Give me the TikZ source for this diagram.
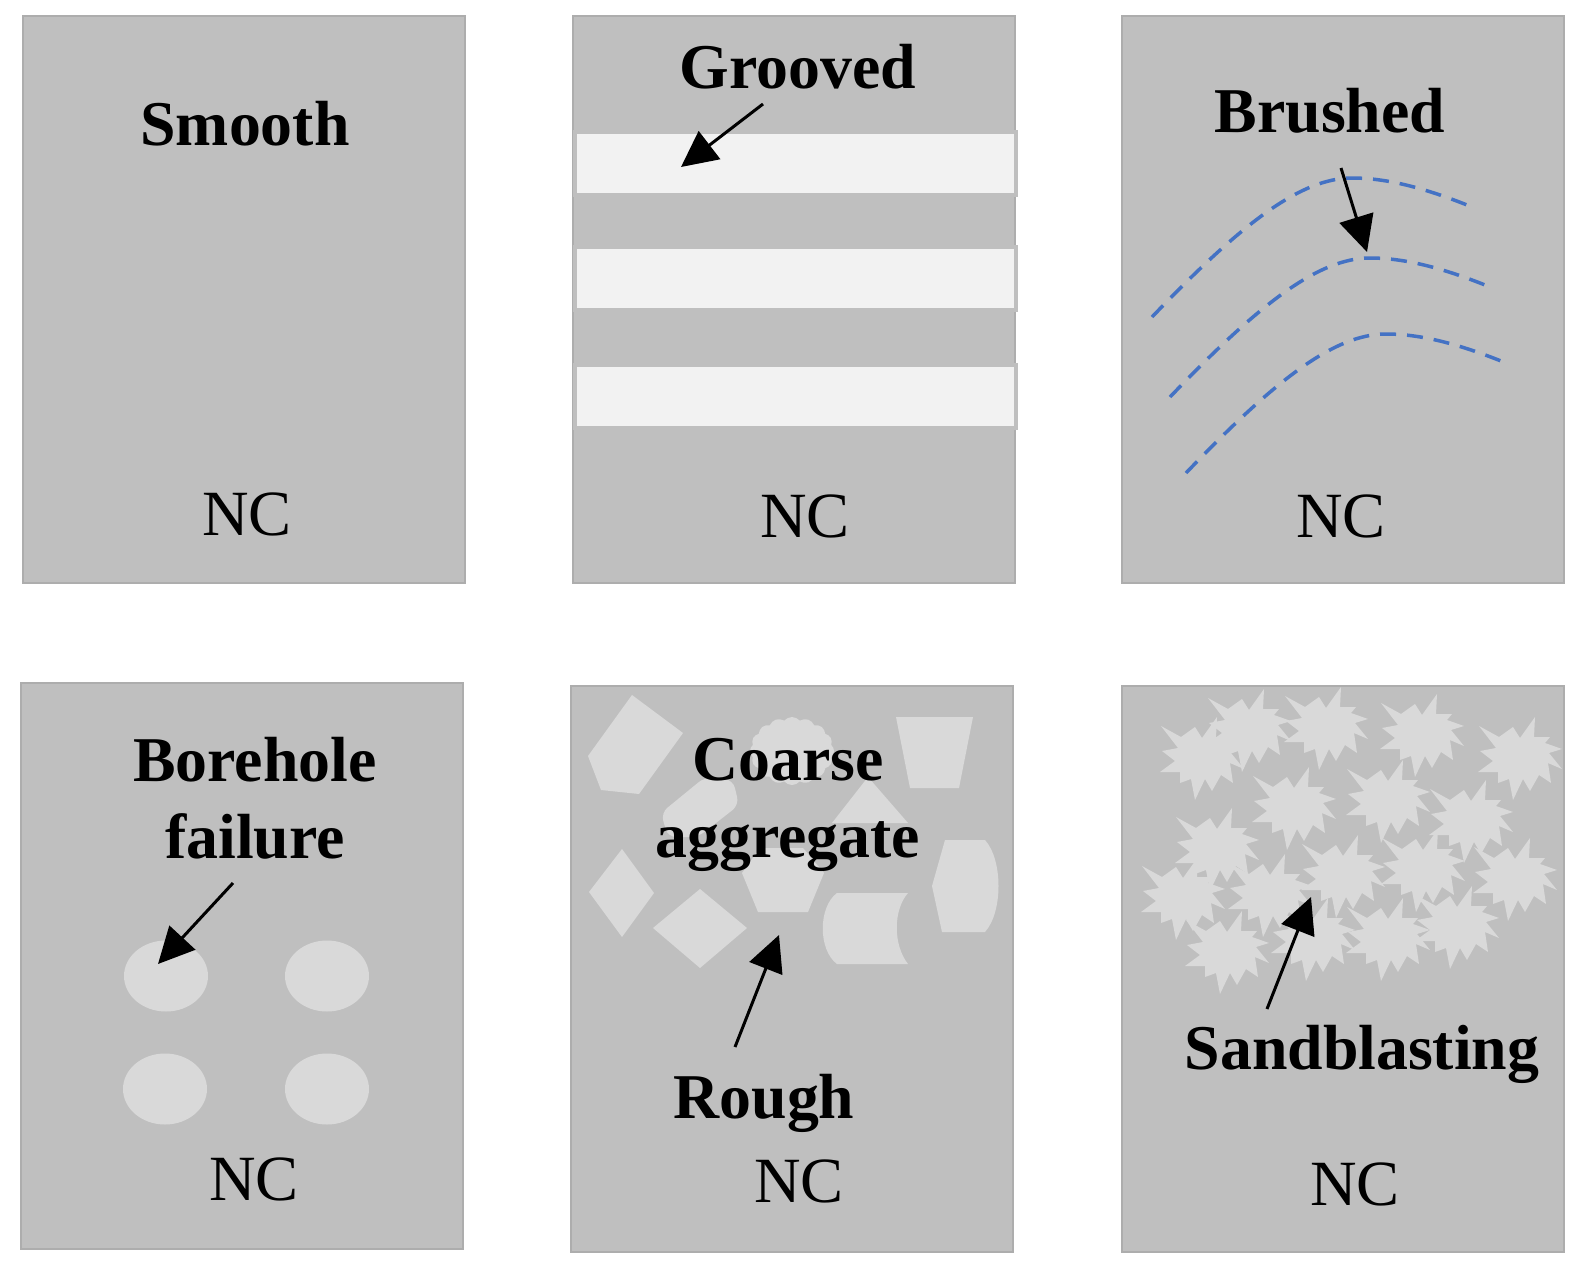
\documentclass[tikz,border=0pt]{standalone}
\usepackage{fontspec}
\setmainfont{Liberation Serif}
\usetikzlibrary{arrows.meta, shapes.symbols}
\definecolor{slab}{HTML}{BFBFBF}
\definecolor{slabedge}{HTML}{ADADAD}
\definecolor{rough}{HTML}{D9D9D9}
\definecolor{groove}{HTML}{F2F2F2}
\definecolor{brush}{HTML}{4472C4}
\tikzset{
        panel/.style={draw=slabedge, fill=slab, line width=1.5pt},
        grooveband/.style={draw=slab, fill=groove, line width=4pt},
        grain/.style={fill=rough, draw=none},
        bristle/.style={draw=brush, line width=3.5pt, dash pattern=on 16pt off 11pt},
        pointer/.style={-{Triangle[length=36pt, width=35pt]}, line width=3pt},
        title/.style={font=\fontsize{63.8}{77}\selectfont\bfseries, align=center, inner sep=0pt},
        base/.style={font=\fontsize{64.5}{77}\selectfont, inner sep=0pt, anchor=base},
        burst/.pic={\fill[rough] (-41,-30) -- (-21,-19) -- (-7,-29) -- (0,-18) -- (15,-39) -- (14,-19) -- (30,-19) -- (25,-13)
                -- (42,-7) -- (29,-3) -- (42,13) -- (28,7) -- (31,27) -- (19,19) -- (10,35) -- (3,23) -- (-7,44) -- (-11,23)
                -- (-22,27) -- (-22,16) -- (-42,16) -- (-27,5) -- (-40,-5) -- (-24,-8) -- cycle;}
}

\begin{document}
\begin{tikzpicture}[x=1pt, y=-1pt]
        \useasboundingbox (0,0) rectangle (1575,1266);
        \fill[white] (0,0) rectangle (1575,1266);

        \draw[panel] (23,16) rectangle (465,583);
        \draw[panel] (573,16) rectangle (1015,583);
        \draw[panel] (1122,16) rectangle (1564,583);
        \draw[panel] (21,683) rectangle (463,1249);
        \draw[panel] (571,686) rectangle (1013,1252);
        \draw[panel] (1122,686) rectangle (1564,1252);

        \foreach \y in {132,247,365}
                \draw[grooveband] (575,\y) rectangle (1016,\y+63);

        \foreach \dx/\dy in {0/0,18/80,34/156}
                \draw[bristle, shift={(\dx,\dy)}] (1152,317) .. controls (1240,225) and (1300,178) .. (1352,178)
                        .. controls (1390,178) and (1430,190) .. (1472,207);

        \foreach \cx/\cy in {166/976,327/976,165/1089,327/1089}
                \fill[grain] (\cx,\cy) ellipse [x radius=42, y radius=35.5];

        \fill[grain] (632,695) -- (683,733) -- (639,794) -- (601,790) -- (588,756) -- cycle;
        \node[cloud, cloud puffs=16, cloud puff arc=100, aspect=1.2, fill=rough, inner sep=0pt, minimum width=84pt, minimum height=68pt] (puff) at (792,751) {};
        \fill[grain, rounded corners=8pt] (661,813) -- (705,777) -- (733,780) -- (739,805) -- (698,837) -- (668,837) -- cycle;
        \fill[grain] (868,777) -- (908,823) -- (832,823) -- cycle;
        \fill[grain] (896,717) -- (973,717) -- (959,788) -- (910,788) -- cycle;
        \fill[grain] (932,886) -- (945,840) -- (985,840) .. controls (1003,860) and (1003,912) .. (985,932) -- (942,932) -- cycle;
        \fill[grain] (837,893) -- (908,893) .. controls (893,910) and (893,945) .. (908,964) -- (837,964)
                .. controls (818,950) and (818,907) .. (837,893) -- cycle;
        \fill[grain] (758,912) -- (808,912) -- (824,873) -- (803,848) -- (760,848) -- (742,873) -- cycle;
        \fill[grain] (622,849) -- (654,893) -- (622,937) -- (589,892) -- cycle;
        \fill[grain] (700,889) -- (747,928) -- (700,968) -- (653,928) -- cycle;

        \foreach \cx/\cy in {1202/756,1249/728,1326/726,1422/733,1520/756,1294/806,1388/799,1471/819,1217/847,
                1183/896,1270/893,1343/874,1423/868,1515/877,1227/950,1313/937,1388/937,1457/925}
                \pic at (\cx,\cy) {burst};

        \node[title, anchor=base] (smooth) at (245,145) {Smooth};
        \node[title, anchor=base] (grooved) at (798,88) {Grooved};
        \node[title, anchor=base] (brushed) at (1330,132) {Brushed};
        \node[title] (borehole) at (255,798) {Borehole\\failure};
        \node[title] (coarse) at (788,805) {Coarse\\aggregate};
        \node[title, anchor=base] (roughlabel) at (764,1118) {Rough};
        \node[title, anchor=base] (sandblasting) at (1362,1069) {Sandblasting};

        \node[base] (nc1) at (247,535) {NC};
        \node[base] (nc2) at (805,537) {NC};
        \node[base] (nc3) at (1341,537) {NC};
        \node[base] (nc4) at (254,1200) {NC};
        \node[base] (nc5) at (799,1202) {NC};
        \node[base] (nc6) at (1355,1205) {NC};

        \coordinate (groovedtail) at (763,104);
        \coordinate (groovedtip) at (681,167);
        \coordinate (brushedtail) at (1341,168);
        \coordinate (brushedtip) at (1367,252);
        \coordinate (boreholetail) at (233,883);
        \coordinate (boreholetip) at (158,964);
        \coordinate (roughtail) at (735,1047);
        \coordinate (roughtip) at (779,935);
        \coordinate (sandtail) at (1267,1009);
        \coordinate (sandtip) at (1311,897);

        \draw[pointer] (groovedtail) -- (groovedtip);
        \draw[pointer] (brushedtail) -- (brushedtip);
        \draw[pointer] (boreholetail) -- (boreholetip);
        \draw[pointer] (roughtail) -- (roughtip);
        \draw[pointer] (sandtail) -- (sandtip);
\end{tikzpicture}
\end{document}
